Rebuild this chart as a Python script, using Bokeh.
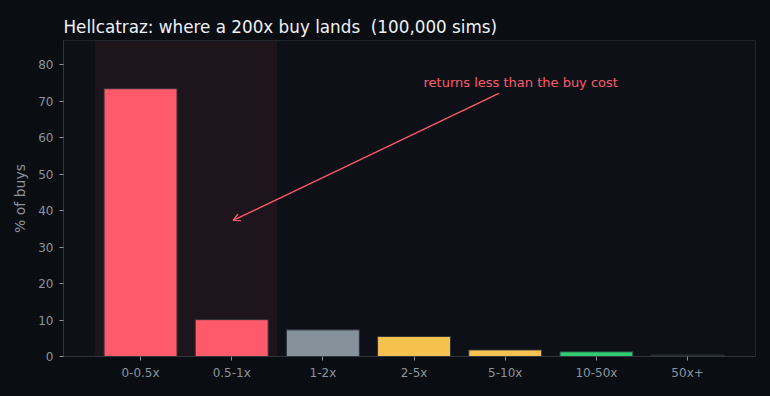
from bokeh.plotting import figure
from bokeh.models import (Range1d, FixedTicker, BoxAnnotation, Arrow, OpenHead,
                          Label, ColumnDataSource, GlobalInlineStyleSheet)
from bokeh.embed import file_html
from bokeh.resources import INLINE

categories = ["0-0.5x", "0.5-1x", "1-2x", "2-5x", "5-10x", "10-50x", "50x+"]
pct_of_buys = [73.4, 10.1, 7.3, 5.5, 1.8, 1.3, 0.4]
bar_colors = ["#ff5a6a", "#ff5a6a", "#85919b", "#f5c14f", "#f5c14f", "#2ecc71", "#1f242b"]
y_ticks = [0, 10, 20, 30, 40, 50, 60, 70, 80]
title_text = "Hellcatraz: where a 200x buy lands \u00a0(100,000 sims)"
note_text = "returns less than the buy cost"

FONT = "DejaVu Sans"
BG = "#0a0d11"
PANEL = "#0d1117"
TXT = "#8b949e"
RED = "#ff5a6a"

xs = list(range(len(categories)))
src = ColumnDataSource(dict(x=xs, top=pct_of_buys, color=bar_colors))

p = figure(width=770, height=396, output_backend="svg", toolbar_location=None,
           x_range=Range1d(-0.845, 6.745), y_range=Range1d(0, max(pct_of_buys) * 1.18),
           min_border_left=63, min_border_right=15, min_border_top=40, min_border_bottom=40)
p.stylesheets = [GlobalInlineStyleSheet(css="html, body { margin: 0; padding: 0; background: #0a0d11; }")]

p.background_fill_color = PANEL
p.border_fill_color = BG
p.outline_line_color = "#1f252d"
p.outline_line_width = 1
p.grid.visible = False

p.title.text = title_text
p.title.text_font = FONT
p.title.text_font_size = "16.8px"
p.title.text_font_style = "normal"
p.title.text_color = "#eef2f6"
p.title.standoff = 7
p.title.offset = 0

span = BoxAnnotation(left=-0.5, right=1.5, fill_color=RED, fill_alpha=0.07,
                     line_alpha=0, level="underlay")
p.add_layout(span)

p.vbar(x="x", top="top", width=0.8, bottom=0, source=src, fill_color="color",
       line_color="#2d333b", line_width=1)

for ax in (p.xaxis, p.yaxis):
    ax.axis_line_color = "#30363d"
    ax.major_tick_line_color = TXT
    ax.major_tick_out = 4
    ax.major_tick_in = 0
    ax.minor_tick_line_color = None
    ax.major_label_text_color = TXT
    ax.major_label_text_font = FONT
    ax.major_label_text_font_size = "12px"

p.xaxis.ticker = FixedTicker(ticks=xs)
p.xaxis.major_label_overrides = {i: c for i, c in enumerate(categories)}
p.xaxis.major_label_standoff = 5

p.yaxis.ticker = FixedTicker(ticks=y_ticks)
p.yaxis.major_label_standoff = 6
p.yaxis.axis_label = "% of buys"
p.yaxis.axis_label_text_font = FONT
p.yaxis.axis_label_text_font_size = "14px"
p.yaxis.axis_label_text_font_style = "normal"
p.yaxis.axis_label_text_color = TXT
p.yaxis.axis_label_standoff = 7

arrow = Arrow(end=OpenHead(size=7, line_color=RED, line_width=1.3),
              x_start=3.93, y_start=72.1, x_end=1.015, y_end=37.3,
              line_color=RED, line_width=1.3)
p.add_layout(arrow)

p.add_layout(Label(x=4.17, y=75.0, text=note_text, text_align="center",
                   text_baseline="middle", text_color=RED, text_font=FONT,
                   text_font_size="13px"))

open("out.html", "w").write(file_html(p, INLINE))
